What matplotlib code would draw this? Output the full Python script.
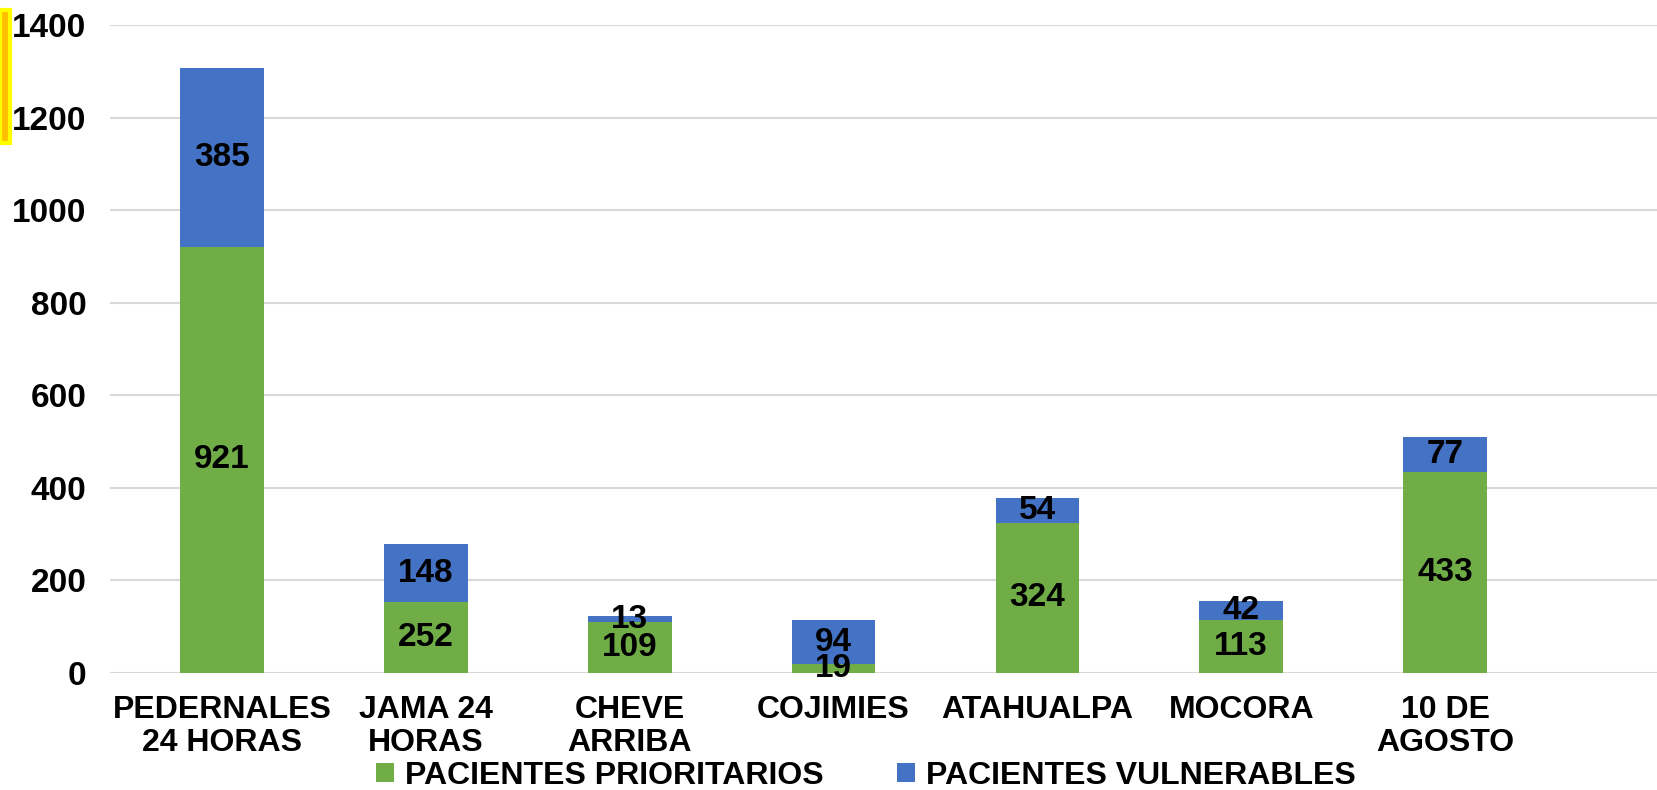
#coding: utf-8
import matplotlib
matplotlib.use('Agg')
import matplotlib.pyplot as plt
import matplotlib.patches as mpatches
import numpy as np

# data
categories = ['PEDERNALES\n24 HORAS', 'JAMA 24\nHORAS', 'CHEVE\nARRIBA', 'COJIMIES',
              'ATAHUALPA', 'MOCORA', '10 DE\nAGOSTO']
prioritarios = [921, 153, 109, 19, 324, 113, 433]   # drawn heights
vulnerables = [385, 125, 13, 94, 54, 42, 77]
prioritarios_lbl = [921, 252, 109, 19, 324, 113, 433]  # printed labels
vulnerables_lbl = [385, 148, 13, 94, 54, 42, 77]
yticks = [0, 200, 400, 600, 800, 1000, 1200, 1400]

GREEN = '#70AD47'
BLUE = '#4472C4'

plt.rcParams['font.family'] = ['Liberation Sans', 'DejaVu Sans']
plt.rcParams['font.weight'] = 'bold'

fig = plt.figure(figsize=(16.57, 7.9), dpi=100)
ax = fig.add_axes([110 / 1657, 1 - 672.7 / 790, 1547 / 1657, (672.7 - 25) / 790])

x = np.arange(len(categories))
w = 0.41
b1 = ax.bar(x, prioritarios, w, color=GREEN, label='PACIENTES PRIORITARIOS', zorder=3)
b2 = ax.bar(x, vulnerables, w, bottom=prioritarios, color=BLUE, label='PACIENTES VULNERABLES', zorder=3)

ax.bar_label(b1, labels=[str(v) for v in prioritarios_lbl], label_type='center',
             fontsize=24, fontweight='bold', zorder=5)
ax.bar_label(b2, labels=[str(v) for v in vulnerables_lbl], label_type='center',
             fontsize=24, fontweight='bold', zorder=5)

ax.set_ylim(0, 1400)
ax.set_xlim(-0.55, 7.04)
ax.set_yticks(yticks)
ax.set_yticklabels([str(t) for t in yticks], fontsize=24, fontweight='bold')
ax.set_xticks(x)
ax.set_xticklabels(categories, fontsize=23, fontweight='bold', linespacing=1.12)
ax.tick_params(axis='y', length=0, pad=17)
ax.tick_params(axis='x', length=0, pad=16)
ax.grid(axis='y', color='#D9D9D9', lw=1.5, zorder=0)
for s in ax.spines.values():
    s.set_visible(False)

fig.legend(handles=[b1, b2], loc='center', bbox_to_anchor=(866 / 1657, 1 - 776 / 790),
           ncol=2, frameon=False, fontsize=23, handlelength=0.55, handleheight=0.55,
           handletextpad=0.35, columnspacing=2.3, borderpad=0, borderaxespad=0)

# yellow marker at the top left edge
fig.patches.append(mpatches.Rectangle((0, 1 - 143 / 790), 10 / 1657, 133 / 790,
                                      transform=fig.transFigure, facecolor='#FFC000',
                                      edgecolor='#FFFF00', lw=3))

fig.savefig('out.png', dpi=100)
